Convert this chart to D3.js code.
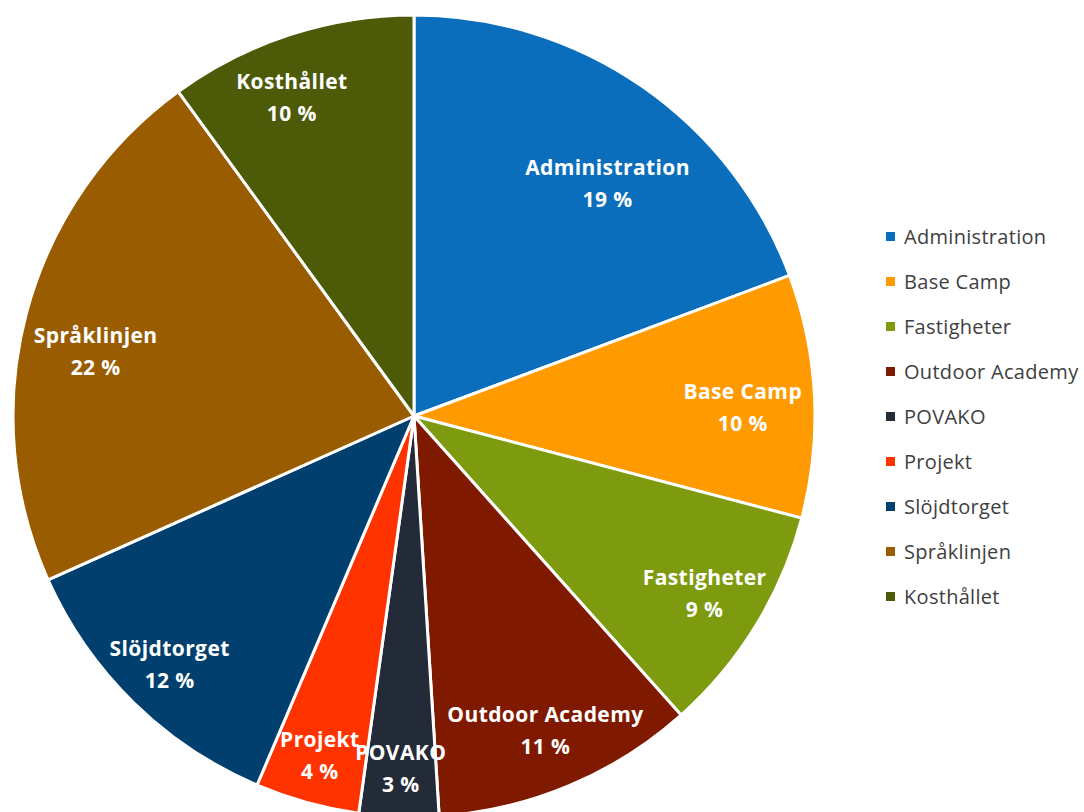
<!DOCTYPE html>
<html><head><meta charset="utf-8">
<script src="https://cdn.jsdelivr.net/npm/d3@7"></script>
<style>body{margin:0;background:#fff}svg{display:block}</style>
</head><body>
<svg id="c" width="1084" height="812"></svg>
<script>
const categories = ["Administration","Base Camp","Fastigheter","Outdoor Academy","POVAKO","Projekt","Slöjdtorget","Språklinjen","Kosthållet"];
const values = [19.3, 9.8, 9.3, 10.6, 3.2, 4.2, 11.9, 21.7, 10.0];
const percentLabels = ["19 %","10 %","9 %","11 %","3 %","4 %","12 %","22 %","10 %"];
const colors = ["#0a6ebd","#ff9a00","#7e9b0f","#7f1a00","#232b38","#ff3300","#003f6e","#995c00","#4d5a08"];

// label placement style (radius fraction, angle shift in degrees)
const labelStyle = {
  "Administration":[0.755, 5], "Base Camp":[0.82, 1.5], "Språklinjen":[0.81,-3.5], "Kosthållet":[0.85,-3],
  "POVAKO":[0.88,0], "Projekt":[0.88,0], "Slöjdtorget":[0.87,0]
};

const svg = d3.select("#c");
const cx = 414, cy = 416, R = 401;
const data = categories.map((c,i)=>({name:c, value:values[i], pct:percentLabels[i], color:colors[i]}));
const pie = d3.pie().value(d=>d.value).sort(null);
const arcs = pie(data);
const arc = d3.arc().innerRadius(0).outerRadius(R);
const g = svg.append("g").attr("transform",`translate(${cx},${cy})`);
g.selectAll("path").data(arcs).join("path")
  .attr("d",arc).attr("fill",d=>d.data.color)
  .attr("stroke","#fff").attr("stroke-width",3).attr("stroke-linejoin","round");

const lab = g.selectAll("g.lab").data(arcs).join("g").attr("class","lab")
  .attr("transform",d=>{
    const st = labelStyle[d.data.name] || [0.85,0];
    const a = (d.startAngle+d.endAngle)/2 + st[1]*Math.PI/180;
    const r = R*st[0];
    return `translate(${r*Math.sin(a)},${-r*Math.cos(a)})`;
  });
const tstyle = s => s.attr("text-anchor","middle").attr("fill","#fff")
  .attr("font-family","'Open Sans',sans-serif").attr("font-weight","bold")
  .attr("font-size",21).attr("letter-spacing","0.4px");
lab.append("text").attr("y",-16).attr("dy","0.35em").call(tstyle).text(d=>d.data.name);
lab.append("text").attr("y",16).attr("dy","0.35em").call(tstyle).text(d=>d.data.pct);

const leg = svg.append("g").attr("transform","translate(886,237)");
const li = leg.selectAll("g").data(data).join("g").attr("transform",(d,i)=>`translate(0,${i*45})`);
li.append("rect").attr("x",0).attr("y",-5).attr("width",9).attr("height",9).attr("fill",d=>d.color);
li.append("text").attr("x",18).attr("dy","0.35em").attr("fill","#404040")
  .attr("font-family","'Open Sans',sans-serif").attr("font-size",20).attr("letter-spacing","0.3px").text(d=>d.name);
</script>
</body></html>
